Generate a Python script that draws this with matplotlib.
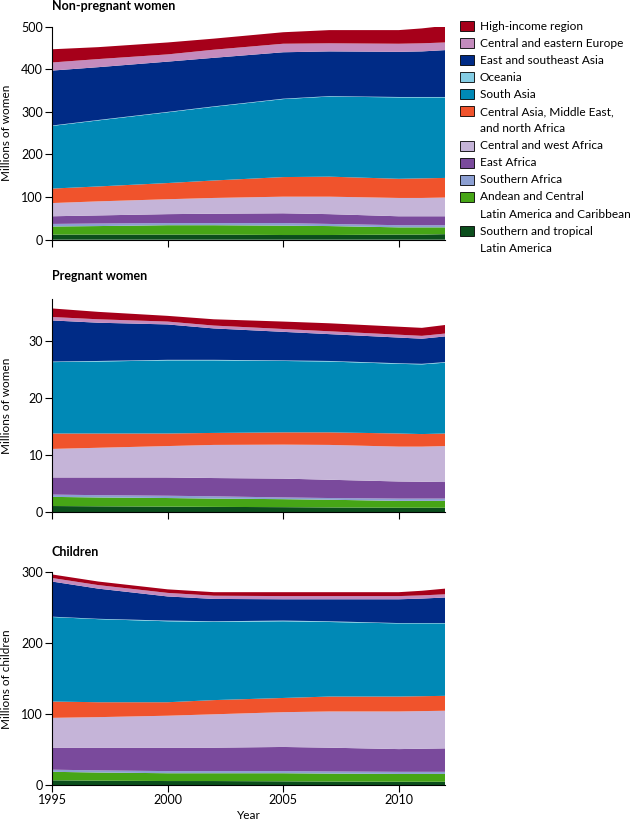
import matplotlib
matplotlib.use('Agg')
import matplotlib.pyplot as plt
from matplotlib.patches import Rectangle

plt.rcParams['font.family'] = ['Lato', 'DejaVu Sans']

years = [1995, 1997, 2000, 2002, 2005, 2007, 2010, 2011, 2012]

# regions, bottom of the stack first
regions = ['Southern and tropical\nLatin America',
           'Andean and Central\nLatin America and Caribbean',
           'Southern Africa',
           'East Africa',
           'Central and west Africa',
           'Central Asia, Middle East,\nand north Africa',
           'South Asia',
           'Oceania',
           'East and southeast Asia',
           'Central and eastern Europe',
           'High-income region']
colors = ['#0b4e1c', '#46a516', '#8c9fd2', '#7a4a9c', '#c5b4d8', '#f0532c',
          '#0089b6', '#84cde4', '#002b86', '#c48bbd', '#a6001a']

# millions of non-pregnant women
nonpreg = [
    [12, 12, 12, 12, 11, 11, 12, 12, 13],
    [19, 20, 22, 22, 22, 21, 17, 17, 16],
    [6, 6, 5, 5, 6, 5, 5, 5, 5],
    [18, 19, 21, 22, 23, 23, 21, 21, 21],
    [31, 33, 35, 37, 39, 41, 43, 43, 44],
    [34, 35, 38, 41, 46, 47, 45, 46, 46],
    [147, 155, 166, 173, 183, 188, 191, 190, 189],
    [1, 1, 1, 1, 1, 1, 1, 1, 1],
    [129, 124, 118, 114, 109, 105, 106, 107, 110],
    [19, 19, 17, 19, 20, 19, 19, 19, 18],
    [31, 28, 28, 26, 27, 31, 32, 35, 39],
]

# millions of pregnant women
preg = [
    [1.1, 1.05, 1.0, 0.95, 0.9, 0.85, 0.8, 0.8, 0.8],
    [1.6, 1.55, 1.5, 1.45, 1.4, 1.35, 1.2, 1.2, 1.2],
    [0.4, 0.4, 0.4, 0.4, 0.3, 0.3, 0.4, 0.4, 0.4],
    [3.0, 3.1, 3.2, 3.2, 3.3, 3.2, 3.0, 2.95, 2.9],
    [5.0, 5.2, 5.5, 5.8, 5.95, 6.1, 6.1, 6.15, 6.3],
    [2.7, 2.5, 2.2, 2.1, 2.15, 2.2, 2.3, 2.2, 2.2],
    [12.5, 12.6, 12.8, 12.7, 12.5, 12.4, 12.2, 12.2, 12.4],
    [0.1, 0.1, 0.1, 0.1, 0.1, 0.1, 0.1, 0.1, 0.1],
    [7.2, 6.7, 6.2, 5.5, 5.0, 4.7, 4.5, 4.4, 4.5],
    [0.6, 0.6, 0.5, 0.5, 0.5, 0.5, 0.5, 0.5, 0.5],
    [1.5, 1.3, 1.0, 1.1, 1.3, 1.4, 1.4, 1.4, 1.5],
]

# millions of children
children = [
    [7, 6.5, 6, 6, 5.6, 5.3, 5, 5, 5],
    [12, 11.5, 11, 11, 11.4, 11.2, 11, 11, 11],
    [3, 3, 3, 3, 3, 3, 3, 3, 3],
    [31, 32, 33, 33, 34, 33.5, 32, 32.5, 33],
    [42, 43, 45, 47, 49, 51, 53, 53, 53],
    [23, 21, 19, 20, 20, 21, 21, 21, 21],
    [119, 117, 114, 110, 108, 105, 103, 102.5, 102],
    [0.5, 0.5, 1, 1, 1, 1, 0.5, 0.5, 0.5],
    [49.5, 42.5, 34, 31.5, 30, 31, 33.5, 34.5, 36],
    [5, 5, 5, 4.5, 4.5, 4.5, 4.5, 4.5, 4.5],
    [5, 5, 5, 5, 5.5, 5.5, 5.5, 6.5, 8],
]

W, H = 635, 822
fig = plt.figure(figsize=(W / 100, H / 100), dpi=100)

panels = [
    ('Non-pregnant women', nonpreg, 'Millions of women', 500, [0, 100, 200, 300, 400, 500], 26.7, 10),
    ('Pregnant women', preg, 'Millions of women', 37.3, [0, 10, 20, 30], 299.3, 280),
    ('Children', children, 'Millions of children', 300, [0, 100, 200, 300], 572.3, 556),
]

axh = 213
for i, (title, data, ylab, ymax, yticks, top, tb) in enumerate(panels):
    ax = fig.add_axes([52 / W, 1 - (top + axh) / H, 393 / W, axh / H])
    ax.stackplot(years, data, colors=colors, linewidth=0)
    ax.set_xlim(1995, 2012)
    ax.set_ylim(0, ymax)
    ax.set_yticks(yticks)
    ax.set_xticks([1995, 2000, 2005, 2010])
    for s in ['top', 'right']:
        ax.spines[s].set_visible(False)
    for s in ['left', 'bottom']:
        ax.spines[s].set_linewidth(0.8)
    ax.tick_params(direction='out', length=5, width=0.8, labelsize=9, pad=1.5)
    if i < 2:
        ax.set_xticklabels([])
    else:
        ax.set_xlabel('Year', fontsize=8.5, labelpad=3)
    ax.set_ylabel(ylab, fontsize=8.5, va='center')
    ax.yaxis.set_label_coords(-0.115, 0.5)
    fig.text(52 / W, 1 - tb / H, title, fontsize=9, fontweight='bold', va='baseline', ha='left')

# legend, top entry first
labels = regions[::-1]
cols = colors[::-1]
line = 0
for lab, c in zip(labels, cols):
    y = 26 + line * 17.1
    fig.add_artist(Rectangle((460 / W, 1 - (y + 5) / H), 14 / W, 10 / H,
                             transform=fig.transFigure, facecolor=c,
                             edgecolor='black', linewidth=0.6))
    for k, part in enumerate(lab.split('\n')):
        fig.text(480 / W, 1 - (y + k * 17.1) / H, part, fontsize=8.6, va='center', ha='left')
    line += len(lab.split('\n'))

fig.savefig('out.png', dpi=100)
